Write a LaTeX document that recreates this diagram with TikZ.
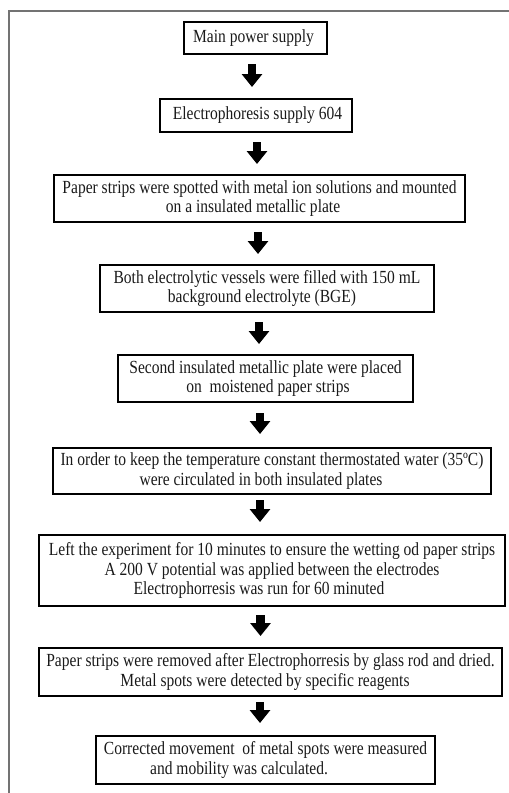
\documentclass[tikz,border=0pt]{standalone}
\usepackage{fontspec}
\setmainfont[FakeStretch=0.84]{Liberation Serif}
\usetikzlibrary{arrows.meta}
\begin{document}
\begin{tikzpicture}[x=1pt,y=-1pt,
  stepbox/.style={draw=black, line width=2.2pt, inner sep=0pt, align=center,
    text=black!90, font=\fontsize{18.5}{19.5}\selectfont},
  blk/.style={line width=8.5pt, black, -{Triangle[width=20pt,length=13pt]}},
  frame/.style={draw=black!55, line width=1.5pt}]
\useasboundingbox (0,0) rectangle (509,793);
\draw[frame] (9,793) -- (9,11) -- (509,11);

\node[stepbox, minimum width=143pt, minimum height=32pt] (b1) at (255.5,38) {Main power supply\hspace*{4pt}};
\node[stepbox, minimum width=192pt, minimum height=33pt] (b2) at (256,115.5) {\hspace*{3pt}Electrophoresis supply 604};
\node[stepbox, minimum width=411pt, minimum height=47pt] (b3) at (259.5,198.5) {Paper strips were spotted with metal ion solutions and mounted\\ on a insulated metallic plate\hspace*{13pt}};
\node[stepbox, minimum width=334pt, minimum height=47pt] (b4) at (267,288.5) {Both electrolytic vessels were filled with 150 mL\\ background electrolyte (BGE)\hspace*{10pt}};
\node[stepbox, minimum width=295pt, minimum height=47pt] (b5) at (265.5,378.5) {Second insulated metallic plate were placed\\ \hspace*{5pt}on\ \ moistened paper strips};
\node[stepbox, minimum width=438pt, minimum height=46pt] (b6) at (272,471) {In order to keep the temperature constant thermostated water (35ºC)\\ were circulated in both insulated plates\hspace*{22pt}};
\node[stepbox, minimum width=466pt, minimum height=71pt] (b7) at (272,570.5) {Left the experiment for 10 minutes to ensure the wetting od paper strips\\ A 200 V potential was applied between the electrodes\hspace*{3pt}\\ Electrophorresis was run for 60 minuted\hspace*{26pt}};
\node[stepbox, minimum width=463pt, minimum height=48pt] (b8) at (270.5,672) {Paper strips were removed after Electrophorresis by glass rod and dried.\\ Metal spots were detected by specific reagents\hspace*{11pt}};
\node[stepbox, minimum width=339pt, minimum height=48pt] (b9) at (265.5,760) {Corrected movement\ \ of metal spots were measured\\ and mobility was calculated.\hspace*{53pt}};

\coordinate (a1t) at (252,64);  \coordinate (a1b) at (252,87);
\coordinate (a2t) at (257,142); \coordinate (a2b) at (257,164);
\coordinate (a3t) at (258,232); \coordinate (a3b) at (258,254);
\coordinate (a4t) at (259,322); \coordinate (a4b) at (259,344);
\coordinate (a5t) at (260,413); \coordinate (a5b) at (260,434);
\coordinate (a6t) at (260,500); \coordinate (a6b) at (260,522);
\coordinate (a7t) at (260.5,615); \coordinate (a7b) at (260.5,636);
\coordinate (a8t) at (260,702); \coordinate (a8b) at (260,723);
\foreach \i in {1,...,8} \draw[blk] (a\i t) -- (a\i b);
\end{tikzpicture}
\end{document}
